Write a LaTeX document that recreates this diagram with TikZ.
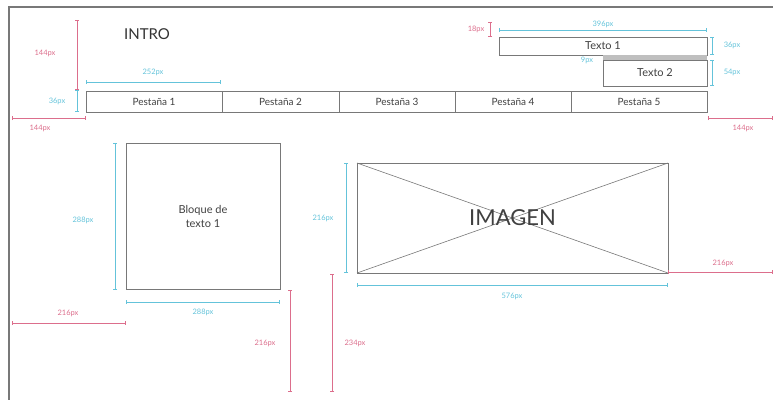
\documentclass[tikz,border=0pt]{standalone}
\usepackage{fontspec}
\setsansfont{Lato}
\usetikzlibrary{arrows.meta,positioning}
\definecolor{dimcyan}{RGB}{100,195,218}
\definecolor{dimpink}{RGB}{220,110,140}
\definecolor{boxgray}{RGB}{120,120,120}
\def\tabh{21pt}

\begin{document}
\begin{tikzpicture}[
		x=1pt,y=-1pt,
		font=\sffamily,
		box/.style={draw=boxgray,line width=0.9pt,inner sep=0pt,outer sep=0pt,text=black!75},
		tab/.style={box,minimum height=\tabh,font=\sffamily\fontsize{10}{11}\selectfont},
		dimc/.style={draw=dimcyan,line width=0.7pt,{Bar[width=4pt]}-{Bar[width=4pt]}},
		dimp/.style={draw=dimpink,line width=0.7pt,{Bar[width=4pt]}-{Bar[width=4pt]}},
		lc/.style={text=dimcyan,font=\sffamily\fontsize{7.5}{8}\selectfont,inner sep=1pt},
		lp/.style={text=dimpink,font=\sffamily\fontsize{7.5}{8}\selectfont,inner sep=1pt}]
		\useasboundingbox (0,0) rectangle (773,400);
		
		% ============ Rahmen ============
		\draw[boxgray,line width=1.4pt] (773,7) -- (9,7) -- (9,400);
		
		% ============ Kopf ============
		\node[text=black!80,font=\sffamily\fontsize{15}{16}\selectfont] (intro) at (147,34) {INTRO};
		\node[box,minimum width=208pt,minimum height=18pt,font=\sffamily\fontsize{11}{12}\selectfont] (texto1) at (603,46) {Texto 1};
		\node[box,minimum width=104pt,minimum height=26pt,font=\sffamily\fontsize{11}{12}\selectfont] (texto2) at (655,73) {Texto 2};
		\fill[black!25] (texto1.south -| texto2.west) rectangle (texto2.north east);
		
		% ============ Pestanas ============
		\node[tab,minimum width=136pt,anchor=west] (tab1) at (86,101.5) {Pestaña 1};
		\node[tab,minimum width=117pt,right=0pt of tab1] (tab2) {Pestaña 2};
		\node[tab,minimum width=116pt,right=0pt of tab2] (tab3) {Pestaña 3};
		\node[tab,minimum width=116pt,right=0pt of tab3] (tab4) {Pestaña 4};
		\node[tab,minimum width=136pt,right=0pt of tab4] (tab5) {Pestaña 5};
		
		% ============ Bloques ============
		\node[box,minimum width=154pt,minimum height=146pt,align=center,
			font=\sffamily\fontsize{11}{14}\selectfont] (bloque) at (203,216) {Bloque de\\texto 1};
		\node[box,minimum width=311pt,minimum height=110pt] (imagen) at (512.5,218) {};
		\draw[boxgray,line width=0.6pt] (imagen.north west) -- (imagen.south east);
		\draw[boxgray,line width=0.6pt] (imagen.south west) -- (imagen.north east);
		\node[text=black!75,font=\sffamily\fontsize{22}{24}\selectfont] (imgtxt) at (imagen.center) {IMAGEN};
		
		% ============ Masse oben ============
		\coordinate (a1) at (77,20);  \coordinate (a2) at (77,90);  \coordinate (a3) at (77,112);
		\draw[dimp] (a1) -- (a2);
		\node[lp] (la) at (45,53) {144px};
		\draw[dimc] (a2) -- (a3);
		\node[lc] (lb) at (57,101) {36px};
		\coordinate (b1) at (12,118); \coordinate (b2) at (86,118);
		\draw[dimp] (b1) -- (b2);
		\node[lp] (lbb) at (40,128) {144px};
		\coordinate (c1) at (86,82); \coordinate (c2) at (221,82);
		\draw[dimc] (c1) -- (c2);
		\node[lc] (lcc) at (153,72) {252px};
		\coordinate (d1) at (490,22); \coordinate (d2) at (490,37);
		\draw[dimp] (d1) -- (d2);
		\node[lp] (ld) at (476,29) {18px};
		\coordinate (e1) at (499,30); \coordinate (e2) at (707,30);
		\draw[dimc] (e1) -- (e2);
		\node[lc] (le) at (603,24) {396px};
		\coordinate (f1) at (712,37); \coordinate (f2) at (712,55);
		\coordinate (f3) at (712,60); \coordinate (f4) at (712,86);
		\draw[dimc] (f1) -- (f2);
		\node[lc] (lf) at (732,45) {36px};
		\draw[dimc] (f3) -- (f4);
		\node[lc] (lg) at (732,72) {54px};
		\node[lc] (lh) at (587,60) {9px};
		\coordinate (g1) at (708,118); \coordinate (g2) at (773,118);
		\draw[dimp] (g1) -- (g2);
		\node[lp] (lgg) at (743,128) {144px};
		
		% ============ Masse unten ============
		\coordinate (h1) at (115,143); \coordinate (h2) at (115,290);
		\draw[dimc] (h1) -- (h2);
		\node[lc] (lhh) at (83,220) {288px};
		\coordinate (i1) at (126,302); \coordinate (i2) at (280,302);
		\draw[dimc] (i1) -- (i2);
		\node[lc] (li) at (203,312) {288px};
		\coordinate (j1) at (12,323); \coordinate (j2) at (126,323);
		\draw[dimp] (j1) -- (j2);
		\node[lp] (lj) at (68,313) {216px};
		\coordinate (k1) at (290,290); \coordinate (k2) at (290,392);
		\draw[dimp] (k1) -- (k2);
		\node[lp] (lk) at (265,343) {216px};
		\coordinate (m1) at (332,274); \coordinate (m2) at (332,392);
		\draw[dimp] (m1) -- (m2);
		\node[lp] (lm) at (355,343) {234px};
		\coordinate (n1) at (346,163); \coordinate (n2) at (346,273);
		\draw[dimc] (n1) -- (n2);
		\node[lc] (ln) at (323,218) {216px};
		\coordinate (o1) at (357,285); \coordinate (o2) at (668,285);
		\draw[dimc] (o1) -- (o2);
		\node[lc] (lo) at (512,296) {576px};
		\coordinate (p1) at (668,272); \coordinate (p2) at (773,272);
		\draw[dimp] (p1) -- (p2);
		\node[lp] (lpp) at (723,263) {216px};
		
	\end{tikzpicture}
\end{document}
